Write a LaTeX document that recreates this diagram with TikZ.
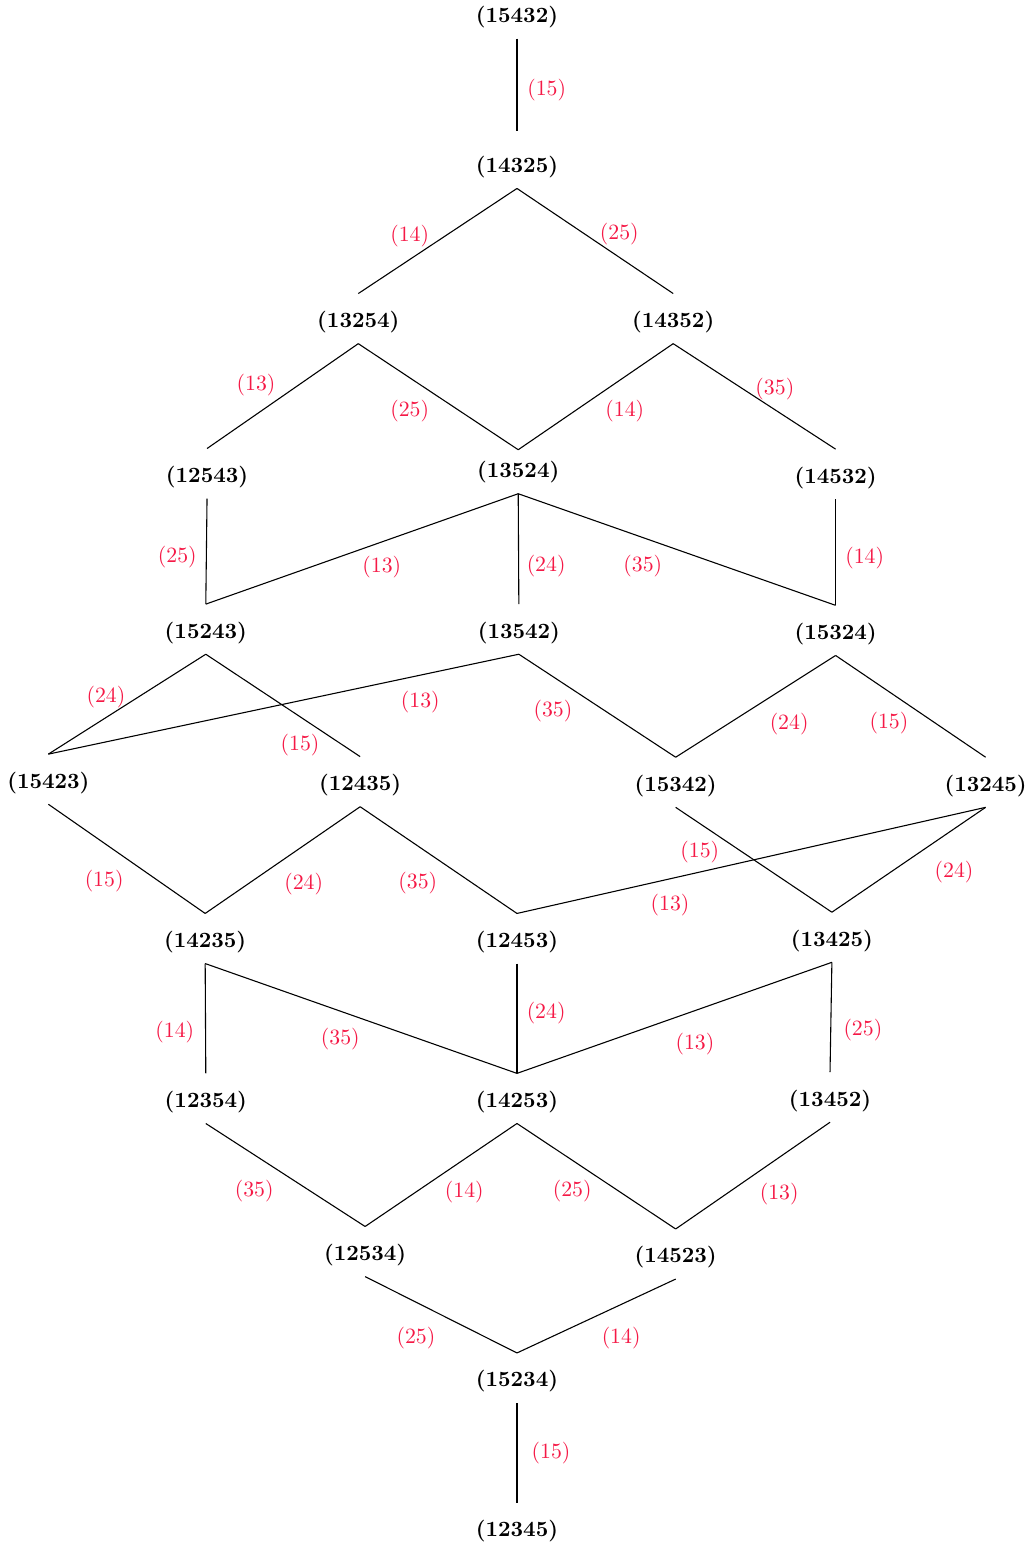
\documentclass[tikz,border=0pt]{standalone}
\usepackage{tikz}
\usetikzlibrary{positioning}
\definecolor{labred}{RGB}{245,25,70}

\tikzset{
	perm/.style={font=\bfseries, inner xsep=2pt, inner ysep=3pt, text height=12.4pt, text depth=4.2pt},
	lbl/.style={text=labred, inner sep=1pt},
	edge/.style={line width=0.5pt}
}

\begin{document}
\begin{tikzpicture}
	\useasboundingbox (-8.34,-0.23) rectangle (8.35,24.71);
	% permutations, bottom to top
	\node[perm] (p12345) at (0,0.06) {(12345)};
	\node[perm] (p15234) at (0,2.48) {(15234)};
	\node[perm] (p12534) at (-2.45,4.52) {(12534)};
	\node[perm] (p14523) at (2.56,4.48) {(14523)};
	\node[perm] (p12354) at (-5.02,6.99) {(12354)};
	\node[perm] (p14253) at (0,6.99) {(14253)};
	\node[perm] (p13452) at (5.05,7.01) {(13452)};
	\node[perm] (p14235) at (-5.03,9.57) {(14235)};
	\node[perm] (p12453) at (0,9.57) {(12453)};
	\node[perm] (p13425) at (5.08,9.59) {(13425)};
	\node[perm] (p15423) at (-7.56,12.14) {(15423)};
	\node[perm] (p12435) at (-2.53,12.10) {(12435)};
	\node[perm] (p15342) at (2.56,12.09) {(15342)};
	\node[perm] (p13245) at (7.56,12.09) {(13245)};
	\node[perm] (p15243) at (-5.02,14.56) {(15243)};
	\node[perm] (p13542) at (0.03,14.56) {(13542)};
	\node[perm] (p15324) at (5.14,14.54) {(15324)};
	\node[perm] (p12543) at (-5.00,17.07) {(12543)};
	\node[perm,text height=9.6pt] (p13524) at (0.02,17.10) {(13524)};
	\node[perm] (p14532) at (5.14,17.06) {(14532)};
	\node[perm] (p13254) at (-2.56,19.57) {(13254)};
	\node[perm] (p14352) at (2.52,19.57) {(14352)};
	\node[perm,text height=15.6pt] (p14325) at (0,22.13) {(14325)};
	\node[perm] (p15432) at (0,24.49) {(15432)};
	% covering relations
	\draw[edge] (p15432.south)--(p14325.north);
	\draw[edge] (p14325.south)--(p13254.north);
	\draw[edge] (p14325.south)--(p14352.north);
	\draw[edge] (p13254.south)--(p12543.north);
	\draw[edge] (p13254.south)--(p13524.north);
	\draw[edge] (p14352.south)--(p13524.north);
	\draw[edge] (p14352.south)--(p14532.north);
	\draw[edge] (p12543.south)--(p15243.north);
	\draw[edge] (p13524.south)--(p15243.north);
	\draw[edge] (p13524.south)--(p13542.north);
	\draw[edge] (p13524.south)--(p15324.north);
	\draw[edge] (p14532.south)--(p15324.north);
	\draw[edge] (p15243.south)--(p15423.north);
	\draw[edge] (p15243.south)--(p12435.north);
	\draw[edge] (p13542.south)--(p15423.north);
	\draw[edge] (p13542.south)--(p15342.north);
	\draw[edge] (p15324.south)--(p15342.north);
	\draw[edge] (p15324.south)--(p13245.north);
	\draw[edge] (p15423.south)--(p14235.north);
	\draw[edge] (p12435.south)--(p14235.north);
	\draw[edge] (p12435.south)--(p12453.north);
	\draw[edge] (p15342.south)--(p13425.north);
	\draw[edge] (p13245.south)--(p12453.north);
	\draw[edge] (p13245.south)--(p13425.north);
	\draw[edge] (p14235.south)--(p12354.north);
	\draw[edge] (p14235.south)--(p14253.north);
	\draw[edge] (p12453.south)--(p14253.north);
	\draw[edge] (p13425.south)--(p14253.north);
	\draw[edge] (p13425.south)--(p13452.north);
	\draw[edge] (p12354.south)--(p12534.north);
	\draw[edge] (p14253.south)--(p12534.north);
	\draw[edge] (p14253.south)--(p14523.north);
	\draw[edge] (p13452.south)--(p14523.north);
	\draw[edge] (p12534.south)--(p15234.north);
	\draw[edge] (p14523.south)--(p15234.north);
	\draw[edge] (p15234.south)--(p12345.north);
	% transpositions
	\node[lbl] (t1) at (0.48,23.26) {(15)};
	\node[lbl] (t2) at (-1.73,20.90) {(14)};
	\node[lbl] (t3) at (1.65,20.94) {(25)};
	\node[lbl] (t4) at (-4.21,18.50) {(13)};
	\node[lbl] (t5) at (-1.73,18.08) {(25)};
	\node[lbl] (t6) at (1.74,18.08) {(14)};
	\node[lbl] (t7) at (4.16,18.44) {(35)};
	\node[lbl] (t8) at (-5.48,15.73) {(25)};
	\node[lbl] (t9) at (-2.18,15.56) {(13)};
	\node[lbl] (t10) at (0.47,15.58) {(24)};
	\node[lbl] (t11) at (2.03,15.58) {(35)};
	\node[lbl] (t12) at (5.61,15.71) {(14)};
	\node[lbl] (t13) at (-6.63,13.47) {(24)};
	\node[lbl] (t14) at (-3.50,12.69) {(15)};
	\node[lbl] (t15) at (-1.56,13.39) {(13)};
	\node[lbl] (t16) at (0.58,13.24) {(35)};
	\node[lbl] (t17) at (4.39,13.03) {(24)};
	\node[lbl] (t18) at (6.00,13.05) {(15)};
	\node[lbl] (t19) at (-6.66,10.50) {(15)};
	\node[lbl] (t20) at (-3.44,10.45) {(24)};
	\node[lbl] (t21) at (-1.60,10.47) {(35)};
	\node[lbl] (t22) at (2.95,10.97) {(15)};
	\node[lbl] (t23) at (2.47,10.11) {(13)};
	\node[lbl] (t24) at (7.05,10.65) {(24)};
	\node[lbl] (t25) at (-5.52,8.06) {(14)};
	\node[lbl] (t26) at (-2.85,7.94) {(35)};
	\node[lbl] (t27) at (0.47,8.37) {(24)};
	\node[lbl] (t28) at (2.87,7.87) {(13)};
	\node[lbl] (t29) at (5.58,8.10) {(25)};
	\node[lbl] (t30) at (-4.24,5.50) {(35)};
	\node[lbl] (t31) at (-0.85,5.48) {(14)};
	\node[lbl] (t32) at (0.89,5.50) {(25)};
	\node[lbl] (t33) at (4.23,5.45) {(13)};
	\node[lbl] (t34) at (-1.63,3.13) {(25)};
	\node[lbl] (t35) at (1.68,3.13) {(14)};
	\node[lbl] (t36) at (0.55,1.27) {(15)};
\end{tikzpicture}
\end{document}
